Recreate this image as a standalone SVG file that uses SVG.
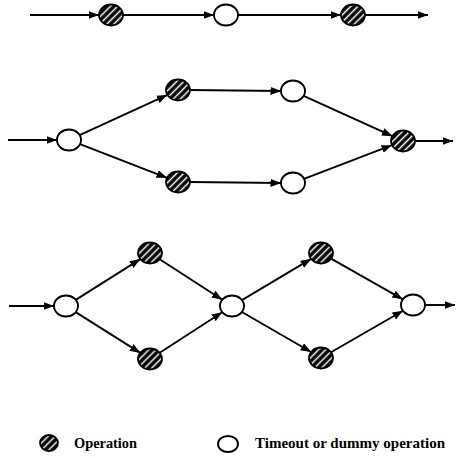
<svg xmlns="http://www.w3.org/2000/svg" width="460" height="458" viewBox="0 0 460 458">
<style>
.e{stroke:#000;stroke-width:1.9;fill:none;marker-end:url(#ah)}
.op{fill:url(#hatch);stroke:#000;stroke-width:1.8}
.wt{fill:#fff;stroke:#000;stroke-width:1.9}
.lbl{font-family:"Liberation Serif",serif;font-weight:bold;font-size:14px;fill:#000}
</style>
<defs>
<marker id="ah" markerUnits="userSpaceOnUse" markerWidth="12" markerHeight="9" refX="10.5" refY="4" orient="auto">
<path d="M0,0 L10.5,4 L0,8 z" fill="#000"/>
</marker>
<pattern id="hatch" patternUnits="userSpaceOnUse" width="5" height="5" patternTransform="rotate(45)">
<rect width="5" height="5" fill="#000"/>
<rect x="1.8" width="1.5" height="5" fill="#fff"/>
</pattern>
</defs>
<rect width="460" height="458" fill="#fff"/>
<g id="connectors">
<line class="e" x1="30" y1="15" x2="99" y2="15"/>
<line class="e" x1="123" y1="15" x2="214" y2="15"/>
<line class="e" x1="238" y1="15" x2="341" y2="15"/>
<line class="e" x1="365" y1="15" x2="428" y2="15"/>
<line class="e" x1="8" y1="140" x2="57" y2="140"/>
<line class="e" x1="79.6" y1="135.1" x2="167.4" y2="94.9"/>
<line class="e" x1="80" y1="144.2" x2="167" y2="177.8"/>
<line class="e" x1="190" y1="90" x2="281" y2="91"/>
<line class="e" x1="190" y1="182" x2="281" y2="183"/>
<line class="e" x1="303.6" y1="95.8" x2="392.4" y2="136.2"/>
<line class="e" x1="304" y1="178.8" x2="392" y2="145.2"/>
<line class="e" x1="415" y1="141" x2="453" y2="141"/>
<line class="e" x1="9" y1="306" x2="54" y2="306"/>
<line class="e" x1="75.7" y1="299.9" x2="140.3" y2="259.1"/>
<line class="e" x1="75.7" y1="312.1" x2="140.3" y2="352.9"/>
<line class="e" x1="159.7" y1="259.2" x2="222.3" y2="299.8"/>
<line class="e" x1="159.7" y1="352.8" x2="222.3" y2="312.2"/>
<line class="e" x1="241.9" y1="300.1" x2="311.1" y2="258.9"/>
<line class="e" x1="241.9" y1="312" x2="311.1" y2="352"/>
<line class="e" x1="331.1" y1="258.7" x2="402.9" y2="299.3"/>
<line class="e" x1="331" y1="352.2" x2="403" y2="310.8"/>
<line class="e" x1="425" y1="305" x2="455" y2="305"/>
</g>
<g id="r1o1"><ellipse class="op" cx="111" cy="15" rx="12" ry="10.5"/></g>
<g id="r1w1"><ellipse class="wt" cx="226" cy="15" rx="12" ry="10.5"/></g>
<g id="r1o2"><ellipse class="op" cx="353" cy="15" rx="12" ry="10.5"/></g>
<g id="r2w1"><ellipse class="wt" cx="69" cy="140" rx="12" ry="10.5"/></g>
<g id="r2o1"><ellipse class="op" cx="178" cy="90" rx="12" ry="10.5"/></g>
<g id="r2o2"><ellipse class="op" cx="178" cy="182" rx="12" ry="10.5"/></g>
<g id="r2w2"><ellipse class="wt" cx="293" cy="91" rx="12" ry="10.5"/></g>
<g id="r2w3"><ellipse class="wt" cx="293" cy="183" rx="12" ry="10.5"/></g>
<g id="r2o3"><ellipse class="op" cx="403" cy="141" rx="12" ry="10.5"/></g>
<g id="r3w1"><ellipse class="wt" cx="66" cy="306" rx="12" ry="10.5"/></g>
<g id="r3o1"><ellipse class="op" cx="150" cy="253" rx="12" ry="10.5"/></g>
<g id="r3o2"><ellipse class="op" cx="150" cy="359" rx="12" ry="10.5"/></g>
<g id="r3w2"><ellipse class="wt" cx="232" cy="306" rx="12" ry="10.5"/></g>
<g id="r3o3"><ellipse class="op" cx="321" cy="253" rx="12" ry="10.5"/></g>
<g id="r3o4"><ellipse class="op" cx="321" cy="358" rx="12" ry="10.5"/></g>
<g id="r3w3"><ellipse class="wt" cx="413" cy="305" rx="12" ry="10.5"/></g>
<g id="legend-op">
<ellipse class="op" cx="49" cy="443" rx="9" ry="8"/>
<text class="lbl" x="74" y="448" textLength="63" lengthAdjust="spacingAndGlyphs">Operation</text>
</g>
<g id="legend-wt">
<ellipse class="wt" cx="228" cy="444" rx="10" ry="8"/>
<text class="lbl" x="255" y="448" textLength="190" lengthAdjust="spacingAndGlyphs">Timeout or dummy operation</text>
</g>
</svg>
